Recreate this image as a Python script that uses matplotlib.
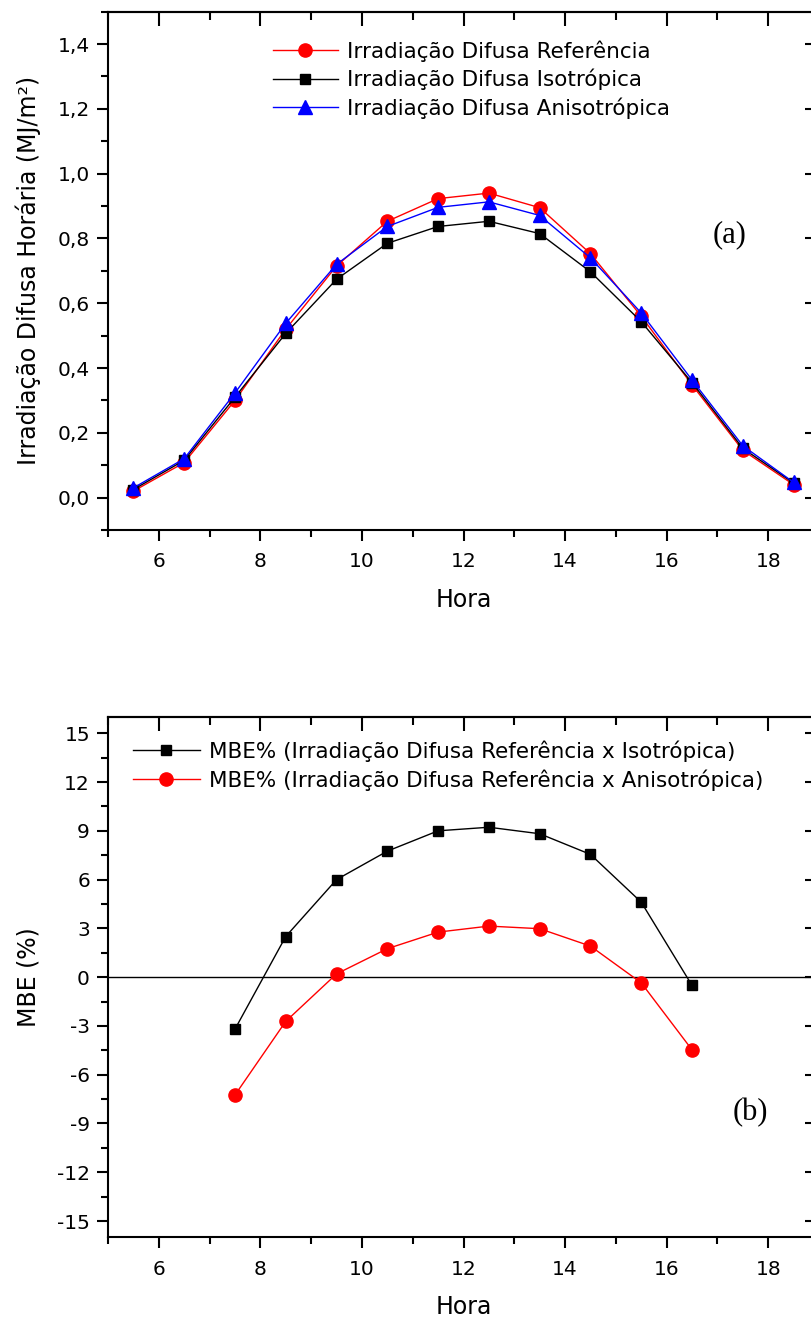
import numpy as np
import matplotlib
matplotlib.use("Agg")
import matplotlib.pyplot as plt
from matplotlib.ticker import MultipleLocator, FuncFormatter

# horas (centro do intervalo)
hora_a = [5.5, 6.5, 7.5, 8.5, 9.5, 10.5, 11.5, 12.5, 13.5, 14.5, 15.5, 16.5, 17.5, 18.5]
difusa_ref = [0.02, 0.108, 0.30, 0.52, 0.715, 0.853, 0.923, 0.94, 0.895, 0.753, 0.56, 0.348, 0.146, 0.04]
difusa_iso = [0.025, 0.115, 0.31, 0.507, 0.674, 0.785, 0.837, 0.853, 0.815, 0.697, 0.543, 0.355, 0.152, 0.045]
difusa_aniso = [0.03, 0.12, 0.323, 0.538, 0.72, 0.837, 0.896, 0.913, 0.871, 0.74, 0.57, 0.363, 0.16, 0.047]

hora_b = [7.5, 8.5, 9.5, 10.5, 11.5, 12.5, 13.5, 14.5, 15.5, 16.5]
mbe_iso = [-3.2, 2.5, 6.0, 7.75, 9.0, 9.22, 8.82, 7.55, 4.61, -0.51]
mbe_aniso = [-7.25, -2.72, 0.2, 1.75, 2.77, 3.14, 2.98, 1.91, -0.35, -4.47]

leg_a = ["Irradiação Difusa Referência", "Irradiação Difusa Isotrópica", "Irradiação Difusa Anisotrópica"]
leg_b = ["MBE% (Irradiação Difusa Referência x Isotrópica)",
         "MBE% (Irradiação Difusa Referência x Anisotrópica)"]

plt.rcParams['font.family'] = ['DejaVu Sans']
plt.rcParams['axes.unicode_minus'] = False

W, H = 811, 1317
fig = plt.figure(figsize=(W / 100, H / 100), dpi=100)


def px_axes(left, top, right, bottom):
    return fig.add_axes([left / W, 1 - bottom / H, (right - left) / W, (bottom - top) / H])


def style_axes(ax):
    for s in ax.spines.values():
        s.set_linewidth(1.5)
    ax.tick_params(which='major', direction='out', length=8, width=1.5, labelsize=14.5, pad=5)
    ax.tick_params(which='minor', direction='out', length=5, width=1.5)
    ax.tick_params(axis='x', which='major', pad=8)
    # espelho em cima e a direita, ticks para dentro
    top = ax.secondary_xaxis('top')
    top.xaxis.set_major_locator(ax.xaxis.get_major_locator())
    top.xaxis.set_minor_locator(ax.xaxis.get_minor_locator())
    top.tick_params(which='major', direction='in', length=10, width=1.5, labeltop=False)
    top.tick_params(which='minor', direction='in', length=6, width=1.5)
    top.spines['top'].set_linewidth(1.5)
    right = ax.secondary_yaxis('right')
    right.yaxis.set_major_locator(ax.yaxis.get_major_locator())
    right.yaxis.set_minor_locator(ax.yaxis.get_minor_locator())
    right.tick_params(which='major', direction='in', length=10, width=1.5, labelright=False)
    right.tick_params(which='minor', direction='in', length=6, width=1.5)
    right.spines['right'].set_linewidth(1.5)


# (a)
ax1 = px_axes(108, 11.7, 819, 530)
ax1.plot(hora_a, difusa_ref, color='red', lw=1, marker='o', ms=9.5, label=leg_a[0])
ax1.plot(hora_a, difusa_iso, color='black', lw=1, marker='s', ms=7, label=leg_a[1])
ax1.plot(hora_a, difusa_aniso, color='blue', lw=1, marker='^', ms=9.5, label=leg_a[2])
ax1.set_xlim(5, 19)
ax1.set_ylim(-0.1, 1.5)
ax1.xaxis.set_major_locator(MultipleLocator(2))
ax1.xaxis.set_minor_locator(MultipleLocator(1))
ax1.set_yticks(np.arange(0, 1.41, 0.2))
ax1.yaxis.set_minor_locator(MultipleLocator(0.1))
ax1.yaxis.set_major_formatter(FuncFormatter(lambda v, p: f"{v:.1f}".replace('.', ',')))
ax1.set_xlabel("Hora", fontsize=17, labelpad=12)
ax1.set_ylabel("Irradiação Difusa Horária (MJ/m²)", fontsize=17, labelpad=12)
style_axes(ax1)
ax1.legend(loc='upper left', bbox_to_anchor=(0.232, 0.945), frameon=False, fontsize=15.5,
           handlelength=3.0, handletextpad=0.45, labelspacing=0.33, borderpad=0, borderaxespad=0)
ax1.text(0.851, 0.569, "(a)", transform=ax1.transAxes, family='Liberation Serif',
         fontsize=22, ha='left', va='center')

# (b)
ax2 = px_axes(108, 717, 819, 1237.3)
ax2.axhline(0, color='black', lw=1)
ax2.plot(hora_b, mbe_iso, color='black', lw=1, marker='s', ms=7, label=leg_b[0])
ax2.plot(hora_b, mbe_aniso, color='red', lw=1, marker='o', ms=9.5, label=leg_b[1])
ax2.set_xlim(5, 19)
ax2.set_ylim(-16, 16)
ax2.xaxis.set_major_locator(MultipleLocator(2))
ax2.xaxis.set_minor_locator(MultipleLocator(1))
ax2.set_yticks(np.arange(-15, 16, 3))
ax2.yaxis.set_minor_locator(MultipleLocator(1.5))
ax2.set_xlabel("Hora", fontsize=17, labelpad=12)
ax2.set_ylabel("MBE (%)", fontsize=17, labelpad=12)
style_axes(ax2)
ax2.legend(loc='upper left', bbox_to_anchor=(0.035, 0.955), frameon=False, fontsize=15.5,
           handlelength=3.1, handletextpad=0.45, labelspacing=0.33, borderpad=0, borderaxespad=0)
ax2.text(0.878, 0.239, "(b)", transform=ax2.transAxes, family='Liberation Serif',
         fontsize=22, ha='left', va='center')

fig.savefig("out.png", dpi=100)
